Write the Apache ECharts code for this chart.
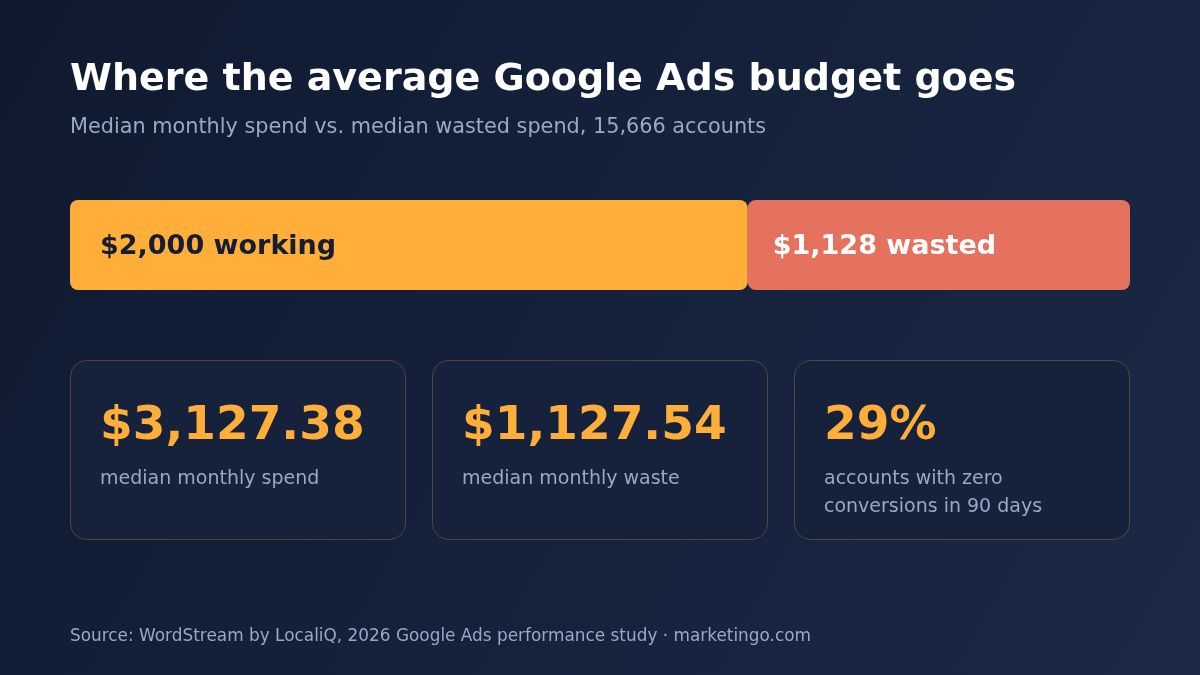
<!DOCTYPE html>
<html>
<head>
<meta charset="utf-8">
<script src="https://cdn.jsdelivr.net/npm/echarts@6/dist/echarts.min.js"></script>
<style>
  html, body { margin: 0; padding: 0; }
  #main { width: 1200px; height: 675px; }
</style>
</head>
<body>
<div id="main"></div>
<script>
const budgetCategory = ['Median monthly budget'];
const workingSpend = [2000];
const wastedSpend = [1128];

const cardValues = ['$3,127.38', '$1,127.54', '29%'];
const cardLabels = [
  ['median monthly spend'],
  ['median monthly waste'],
  ['accounts with zero', 'conversions in 90 days']
];

const titleText = 'Where the average Google Ads budget goes';
const subtitleText = 'Median monthly spend vs. median wasted spend, 15,666 accounts';
const sourceText = 'Source: WordStream by LocaliQ, 2026 Google Ads performance study \u00b7 marketingo.com';

const font = "'DejaVu Sans', sans-serif";
const orange = '#ffae3a';
const coral = '#e5715f';
const muted = '#9aa8c4';

const chart = echarts.init(document.getElementById('main'));

function money(v) {
  return '$' + v.toLocaleString('en-US');
}

const graphics = [
  {
    type: 'text', x: 70, y: 80,
    style: { text: titleText, fill: '#ffffff', font: 'bold 38px ' + font, verticalAlign: 'middle' }
  },
  {
    type: 'text', x: 70, y: 128,
    style: { text: subtitleText, fill: muted, font: '20.8px ' + font, verticalAlign: 'middle' }
  },
  {
    type: 'text', x: 70, y: 637,
    style: { text: sourceText, fill: muted, font: '16.9px ' + font, verticalAlign: 'middle' }
  }
];

const cardW = 336, cardH = 180, cardGap = 26, cardTop = 360;
cardValues.forEach((val, i) => {
  const x = 70 + i * (cardW + cardGap);
  graphics.push({
    type: 'rect',
    shape: { x: x + 0.5, y: cardTop + 0.5, width: cardW - 1, height: cardH - 1, r: 16 },
    style: { fill: '#16223b', stroke: 'rgba(255,174,59,0.25)', lineWidth: 1 }
  });
  graphics.push({
    type: 'text', x: x + 30, y: 427,
    style: { text: val, fill: orange, font: 'bold 47px ' + font, verticalAlign: 'middle' }
  });
  cardLabels[i].forEach((line, j) => {
    graphics.push({
      type: 'text', x: x + 30, y: 479 + j * 28,
      style: { text: line, fill: muted, font: '19px ' + font, verticalAlign: 'middle' }
    });
  });
});

const option = {
  backgroundColor: {
    type: 'linear', x: 0, y: 0, x2: 1, y2: 1,
    colorStops: [
      { offset: 0, color: '#0f1a30' },
      { offset: 1, color: '#1b2946' }
    ]
  },
  grid: { left: 70, right: 70, top: 200, height: 90 },
  xAxis: {
    type: 'value', min: 0, max: workingSpend[0] + wastedSpend[0],
    show: false
  },
  yAxis: {
    type: 'category', data: budgetCategory, show: false
  },
  series: [
    {
      name: 'Working',
      type: 'bar',
      stack: 'budget',
      data: workingSpend,
      barWidth: 90,
      itemStyle: { color: orange, borderRadius: 8 },
      label: {
        show: true, position: 'insideLeft', distance: 30, offset: [0, 2],
        formatter: p => money(p.value) + ' working',
        color: '#141d33', fontFamily: font, fontWeight: 'bold', fontSize: 27
      },
      silent: true
    },
    {
      name: 'Wasted',
      type: 'bar',
      stack: 'budget',
      data: wastedSpend,
      barWidth: 90,
      itemStyle: { color: coral, borderRadius: 8 },
      label: {
        show: true, position: 'insideLeft', distance: 25, offset: [0, 2],
        formatter: p => money(p.value) + ' wasted',
        color: '#ffffff', fontFamily: font, fontWeight: 'bold', fontSize: 27
      },
      silent: true
    }
  ],
  graphic: graphics,
  animation: false
};

chart.setOption(option);
</script>
</body>
</html>
